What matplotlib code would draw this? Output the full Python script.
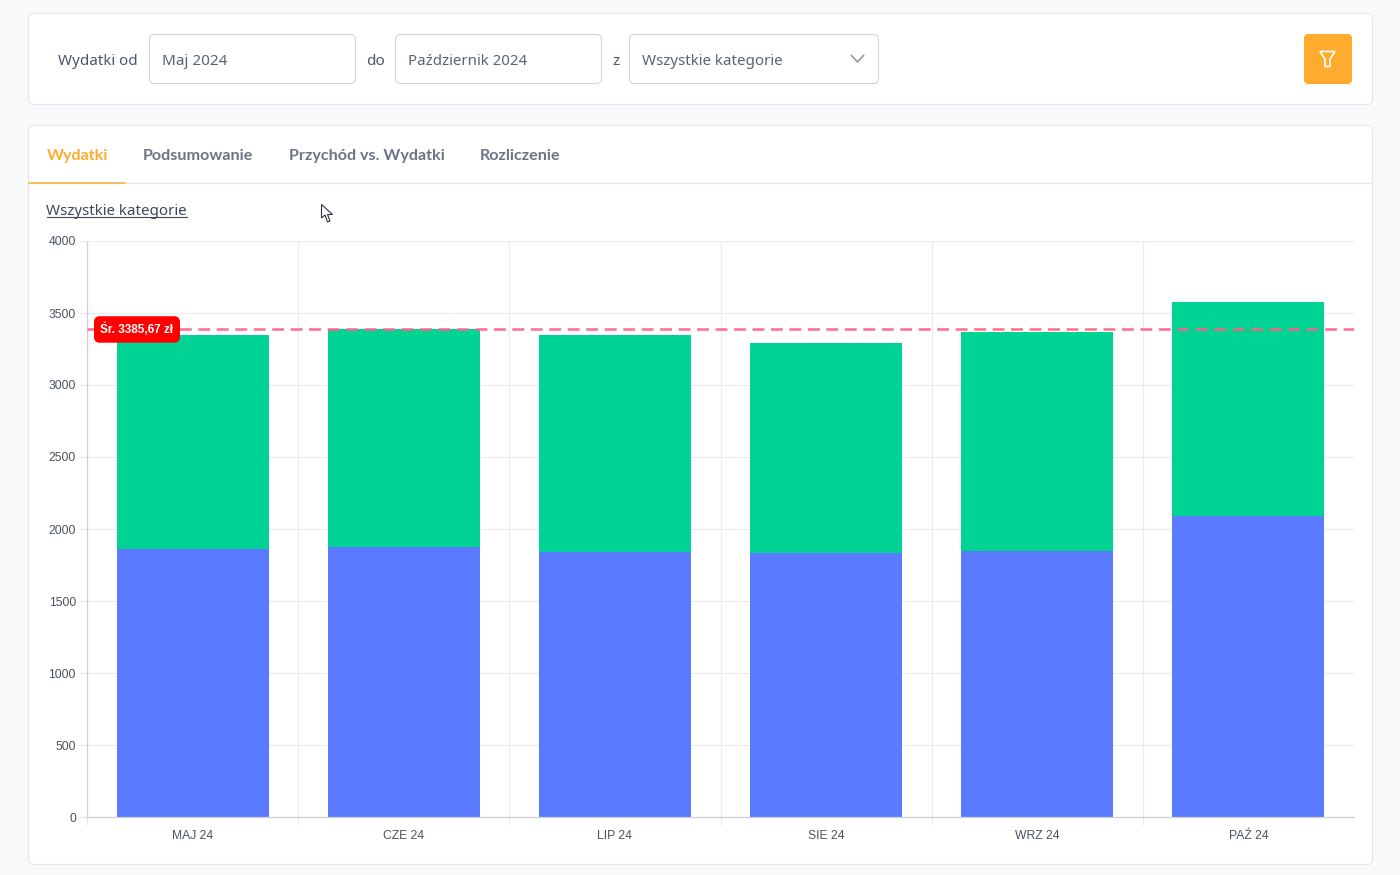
import matplotlib
matplotlib.use('Agg')
import matplotlib.pyplot as plt
from matplotlib.patches import FancyBboxPatch, Polygon

months = ['MAJ 24', 'CZE 24', 'LIP 24', 'SIE 24', 'WRZ 24', 'PAŹ 24']
blue_values = [1858, 1878, 1840, 1830, 1844, 2087]
green_values = [1486, 1511, 1507, 1462, 1521, 1489]
average = 3385.67
average_label = 'Śr. 3385,67 zł'
y_ticks = [0, 500, 1000, 1500, 2000, 2500, 3000, 3500, 4000]
tabs = ['Wydatki', 'Podsumowanie', 'Przychód vs. Wydatki', 'Rozliczenie']
tab_x = [46.5, 142.5, 289, 479.5]

W, H = 1400, 875
UI_FONT = 'Noto Sans'
ORANGE = '#ffab2e'

fig = plt.figure(figsize=(14, 8.75), dpi=100, facecolor='#f7f9fb')

# page layer, drawn in pixels from the top left
page = fig.add_axes([0, 0, 1, 1], zorder=0)
page.set_xlim(0, W)
page.set_ylim(H, 0)
page.axis('off')


def box(x0, y0, x1, y1, face='white', edge='#e3e7ed', radius=5, z=1):
    page.add_patch(FancyBboxPatch((x0, y0), x1 - x0, y1 - y0,
                                  boxstyle='round,pad=0,rounding_size=%s' % radius,
                                  fc=face, ec=edge, lw=0.8, zorder=z))


def label(x, y, s, color='#4d5666', size=11, family=UI_FONT, **kw):
    page.text(x, y, s, color=color, fontsize=size, family=family, va='center', **kw)


# filter card
box(28.5, 13.5, 1372.5, 104.5)
label(58.5, 61.5, 'Wydatki od', size=10.9)
box(149.5, 34.5, 355.5, 83.5, edge='#d2d7df', z=2)
label(162.5, 61.5, 'Maj 2024', color='#5b6472')
label(366, 61.5, 'do')
box(395.5, 34.5, 601.5, 83.5, edge='#d2d7df', z=2)
label(408, 61.5, 'Październik 2024', color='#5b6472', size=10.8)
label(612, 61.5, 'z')
box(629.5, 34.5, 878.5, 83.5, edge='#d2d7df', z=2)
label(642.5, 61.5, 'Wszystkie kategorie', color='#5b6472', size=10.9)
page.plot([851.5, 857.5, 863.5], [55.5, 62, 55.5], color='#8f9aa5', lw=1.2, zorder=3)

# filter button
box(1304.5, 34.5, 1351.5, 83.5, face=ORANGE, edge=ORANGE, radius=4, z=2)
page.add_patch(Polygon([(1320, 51.5), (1335, 51.5), (1330, 59), (1330, 66.5),
                        (1325, 66.5), (1325, 59)],
                       closed=True, fc='none', ec='white', lw=1.2, zorder=3))

# chart card with tabs
box(28.5, 125.5, 1372.5, 864.5)
page.plot([29, 1372], [182.5, 182.5], color='#e3e7ed', lw=0.9, zorder=2)
page.plot([29, 125], [183, 183], color=ORANGE, lw=1.1, zorder=3)
for i, tab in enumerate(tabs):
    label(tab_x[i], 156, tab, color=ORANGE if i == 0 else '#6b7585',
          size=11.6, family='Lato', fontweight='bold')
label(46.5, 211.5, 'Wszystkie kategorie', color='#3f4856', size=10.9)
page.plot([46.5, 186.5], [216.5, 216.5], color='#3f4856', lw=0.8, zorder=3)

# mouse cursor
page.add_patch(Polygon([(321.5, 204.5), (321.5, 218), (325, 215), (327.5, 222),
                        (330, 221), (327.5, 214.5), (332.5, 214.5)],
                       closed=True, fc='white', ec='#2b3240', lw=0.8, zorder=4))

# chart
left, right, top, bottom = 87.0, 1354.0, 241.0, 817.0
ax = fig.add_axes([left / W, 1 - bottom / H, (right - left) / W, (bottom - top) / H],
                  zorder=1)
ax.patch.set_alpha(0)
positions = list(range(len(months)))
ax.bar(positions, blue_values, width=0.72, color='#5a7aff', zorder=2)
ax.bar(positions, green_values, width=0.72, bottom=blue_values, color='#00d394', zorder=2)
ax.set_xlim(-0.5, len(months) - 0.5)
ax.set_ylim(0, 4000)

ax.set_yticks(y_ticks)
ax.set_xticks(positions)
ax.set_xticklabels(months, family='Liberation Sans', fontsize=8.7, color='#4b5260')
ax.set_xticks([p - 0.5 for p in positions[1:]] + [-0.5], minor=True)
for t in ax.get_yticklabels():
    t.set_family('Liberation Sans')
    t.set_fontsize(8.7)
    t.set_color('#4b5260')
ax.tick_params(axis='x', which='major', length=0, pad=9.5)
ax.tick_params(axis='x', which='minor', length=6, width=0.8, color='#e8e8ea')
ax.tick_params(axis='y', length=5.5, width=0.8, color='#e8e8ea', pad=2.5)
ax.grid(True, axis='y', color='#ececee', lw=0.8, zorder=1)
ax.grid(True, axis='x', which='minor', color='#ececee', lw=0.8, zorder=1)
ax.set_axisbelow(True)
for side in ['top', 'right']:
    ax.spines[side].set_visible(False)
for side in ['left', 'bottom']:
    ax.spines[side].set_color('#d0d0d3')
    ax.spines[side].set_linewidth(0.9)

ax.axhline(average, color='#ff6384', lw=1.9, dashes=(4.5, 2.5), alpha=0.9, zorder=3)
ax.annotate(average_label, xy=(50 / (right - left), average),
            xycoords=('axes fraction', 'data'), ha='center', va='center',
            family='Liberation Sans', fontsize=8.5, fontweight='bold', color='white',
            bbox=dict(boxstyle='round,pad=0.55,rounding_size=0.5', fc='#ff0000', ec='none'),
            zorder=5)

fig.savefig('out.png', dpi=100, facecolor=fig.get_facecolor())
